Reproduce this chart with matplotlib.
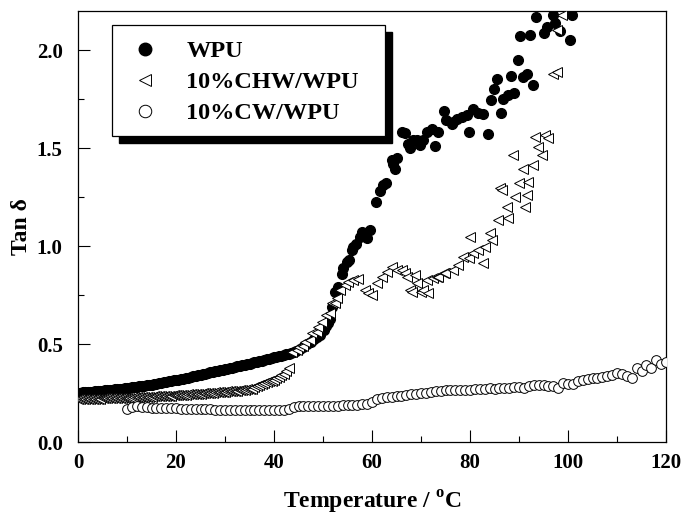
import matplotlib
matplotlib.use("Agg")
import matplotlib.pyplot as plt
from matplotlib.lines import Line2D
from matplotlib.patches import Rectangle
from matplotlib.ticker import MultipleLocator, FormatStrFormatter

# =============================================================================
# Data
# =============================================================================

# WPU: dense low-temperature band, then scattered points
wpu_temp = [
    0.0, 0.5, 1.0, 1.5, 2.0, 2.5, 3.0, 3.5, 4.0, 4.5, 5.0, 5.5, 6.0, 6.5, 7.0, 7.5,
    8.0, 8.5, 9.0, 9.5, 10.0, 10.5, 11.0, 11.5, 12.0, 12.5, 13.0, 13.5, 14.0, 14.5,
    15.0, 15.5, 16.0, 16.5, 17.0, 17.5, 18.0, 18.5, 19.0, 19.5, 20.0, 20.5, 21.0,
    21.5, 22.0, 22.5, 23.0, 23.5, 24.0, 24.5, 25.0, 25.5, 26.0, 26.5, 27.0, 27.5,
    28.0, 28.5, 29.0, 29.5, 30.0, 30.5, 31.0, 31.5, 32.0, 32.5, 33.0, 33.5, 34.0,
    34.5, 35.0, 35.5, 36.0, 36.5, 37.0, 37.5, 38.0, 38.5, 39.0, 39.5, 40.0, 40.5,
    41.0, 41.5, 42.0, 42.5, 43.0, 43.5, 44.0,
    44.5, 45.3, 46.0, 46.8, 47.5, 48.2, 48.8, 49.4, 50.2, 50.7, 51.1, 51.5, 51.8,
    52.4, 53.0, 53.8, 54.1, 54.8, 55.3, 55.9, 56.2, 56.7, 57.6, 57.9, 58.6, 58.9,
    59.6, 60.8, 61.6, 62.3, 62.9, 64.0, 64.3, 64.7, 65.0, 66.1, 66.7, 67.4, 67.8,
    68.4, 69.1, 69.8, 70.5, 71.2, 72.2, 72.9, 73.5, 74.6, 75.2, 76.3, 76.6, 77.3,
    78.3, 79.3, 79.7, 80.7, 81.7, 82.7, 83.7, 84.3, 84.9, 85.6, 86.3, 86.8, 87.8,
    88.3, 89.0, 89.7, 90.2, 90.9, 91.7, 92.2, 92.9, 93.5, 95.0, 95.8, 97.0, 97.3,
    98.4, 100.4, 100.9,
]
wpu_tan = [
    .251, .252, .253, .254, .255, .256, .257, .258, .259, .260, .262, .263, .264,
    .265, .267, .268, .270, .271, .272, .274, .275, .277, .279, .280, .282, .284,
    .286, .288, .290, .292, .293, .295, .297, .300, .302, .304, .307, .309, .311,
    .314, .316, .319, .321, .324, .327, .329, .332, .335, .337, .340, .343, .346,
    .349, .352, .355, .358, .360, .363, .366, .369, .372, .375, .378, .380, .383,
    .386, .389, .392, .394, .397, .400, .403, .406, .409, .412, .415, .419, .422,
    .425, .428, .432, .435, .438, .441, .445, .448, .451, .455, .458,
    .465, .475, .485, .500, .510, .525, .535, .546, .570, .590, .606, .630, .690,
    .767, .790, .860, .886, .920, .930, .980, .996, 1.01, 1.047, 1.073, 1.056, 1.04,
    1.082, 1.226, 1.28, 1.31, 1.32, 1.44, 1.42, 1.396, 1.452, 1.583, 1.575, 1.52,
    1.50, 1.54, 1.54, 1.515, 1.54, 1.58, 1.60, 1.51, 1.583, 1.69, 1.646, 1.622,
    1.634, 1.65, 1.657, 1.668, 1.58, 1.70, 1.677, 1.673, 1.571, 1.745, 1.80, 1.855,
    1.68, 1.753, 1.77, 1.87, 1.78, 1.95, 2.07, 1.864, 1.878, 2.08, 1.82, 2.17,
    2.09, 2.12, 2.18, 2.14, 2.10, 2.05, 2.18,
]

# 10%CHW/WPU
chw_temp = [
    0.0, 0.5, 1.0, 1.5, 2.0, 2.5, 3.0, 3.5, 4.0, 4.5, 5.0, 5.5, 6.0, 6.5, 7.0, 7.5,
    8.0, 8.5, 9.0, 9.5, 10.0, 10.5, 11.0, 11.5, 12.0, 12.5, 13.0, 13.5, 14.0, 14.5,
    15.0, 15.5, 16.0, 16.5, 17.0, 17.5, 18.0, 18.5, 19.0, 19.5, 20.0, 20.5, 21.0,
    21.5, 22.0, 22.5, 23.0, 23.5, 24.0, 24.5, 25.0, 25.5, 26.0, 26.5, 27.0, 27.5,
    28.0, 28.5, 29.0, 29.5, 30.0, 30.5, 31.0, 31.5, 32.0, 32.5, 33.0, 33.5, 34.0,
    34.5, 35.0, 35.5, 36.0, 36.5, 37.0, 37.5, 38.0, 38.5, 39.0, 39.5, 40.0, 40.5,
    41.0, 41.5, 42.0, 42.5, 43.0,
    43.6, 44.6, 45.0, 46.0, 46.3, 47.3, 47.7, 48.7, 49.0, 49.7, 50.7, 51.4, 51.8,
    52.4, 52.8, 53.5, 54.5, 55.2, 56.2, 57.2, 58.6, 59.2, 59.9, 61.0, 62.0, 63.0,
    64.0, 65.0, 66.1, 66.7, 67.1, 67.8, 68.1, 68.8, 69.1, 70.1, 70.5, 71.2, 71.5,
    72.5, 73.2, 73.5, 74.6, 74.9, 76.6, 77.6, 78.6, 79.9, 79.7, 80.7, 81.7, 82.7,
    83.1, 84.1, 84.4, 85.8, 86.1, 86.5, 87.5, 87.8, 88.8, 89.2, 89.9, 90.9, 91.2,
    91.6, 91.9, 92.9, 93.3, 93.9, 94.6, 95.3, 96.0, 97.0, 97.7, 97.7, 98.7,
]
chw_tan = [
    .219, .219, .220, .220, .221, .221, .221, .222, .222, .222, .223, .223, .223,
    .224, .224, .224, .225, .225, .225, .226, .226, .227, .227, .228, .229, .229,
    .230, .230, .231, .232, .232, .233, .233, .234, .234, .235, .236, .236, .237,
    .238, .238, .239, .240, .241, .242, .243, .244, .245, .246, .247, .247, .248,
    .249, .250, .251, .252, .253, .254, .255, .256, .257, .258, .259, .260, .261,
    .262, .263, .265, .266, .268, .270, .272, .282, .287, .292, .297, .301, .305,
    .309, .313, .318, .325, .332, .340, .348, .362, .380,
    .461, .470, .486, .490, .512, .520, .554, .563, .588, .610, .648, .660, .708,
    .710, .733, .776, .800, .818, .827, .830, .776, .759, .750, .810, .843, .869,
    .894, .878, .878, .861, .843, .776, .767, .852, .810, .767, .776, .827, .759,
    .835, .843, .843, .861, .861, .878, .903, .945, 1.047, .937, .963, .980, .912,
    .996, 1.065, 1.03, 1.133, 1.294, 1.286, 1.20, 1.141, 1.464, 1.25, 1.32, 1.396,
    1.20, 1.26, 1.328, 1.413, 1.558, 1.507, 1.464, 1.566, 1.55, 1.88, 1.89, 2.105,
    2.18,
]

# 10%CW/WPU
cw_temp = [
    10, 11, 12, 13, 14, 15, 16, 17, 18, 19, 20, 21, 22, 23, 24, 25, 26, 27, 28, 29,
    30, 31, 32, 33, 34, 35, 36, 37, 38, 39, 40, 41, 42, 43, 44, 45, 46, 47, 48, 49,
    50, 51, 52, 53, 54, 55, 56, 57, 58, 59, 60, 61, 62, 63, 64, 65, 66, 67, 68, 69,
    70, 71, 72, 73, 74, 75, 76, 77, 78, 79, 80, 81, 82, 83, 84, 85, 86, 87, 88, 89,
    90, 91, 92, 93, 94, 95, 96, 97, 98, 99, 100, 101, 102, 103, 104, 105, 106, 107,
    108, 109, 110, 111, 112, 113, 114, 115, 116, 117, 118, 119, 120,
]
cw_tan = [
    .167, .178, .183, .180, .178, .176, .175, .174, .173, .172, .171, .170, .169,
    .168, .167, .167, .166, .166, .165, .165, .165, .164, .164, .164, .163, .163,
    .163, .163, .163, .163, .164, .164, .165, .168, .180, .182, .183, .183, .183,
    .184, .184, .184, .185, .186, .187, .188, .189, .190, .192, .196, .203, .222,
    .226, .229, .231, .234, .237, .240, .243, .246, .249, .252, .255, .258, .262,
    .264, .264, .265, .266, .266, .267, .268, .270, .273, .275, .272, .274, .275,
    .278, .280, .282, .274, .285, .291, .292, .290, .288, .286, .276, .300, .294,
    .298, .312, .318, .322, .325, .328, .333, .336, .340, .350, .345, .335, .325,
    .376, .360, .393, .376, .418, .400, .410,
]

series_labels = ["WPU", "10%CHW/WPU", "10%CW/WPU"]

# =============================================================================
# Plot
# =============================================================================

plt.rcParams["font.family"] = ["Liberation Serif", "DejaVu Serif"]
plt.rcParams["font.weight"] = "bold"
plt.rcParams["mathtext.fontset"] = "custom"
plt.rcParams["mathtext.rm"] = "Liberation Serif:bold"
plt.rcParams["mathtext.bf"] = "Liberation Serif:bold"

fig = plt.figure(figsize=(6.81, 5.18), dpi=100)
ax = fig.add_axes([78 / 681, 76 / 518, 588 / 681, 431 / 518])

ms = 7.0
ax.plot(wpu_temp, wpu_tan, linestyle="none", marker="o", markersize=ms,
        markerfacecolor="black", markeredgecolor="black", zorder=2)
ax.plot(chw_temp, chw_tan, linestyle="none", marker="<", markersize=ms + 0.5,
        markerfacecolor="white", markeredgecolor="black", markeredgewidth=0.7,
        zorder=3)
ax.plot(cw_temp, cw_tan, linestyle="none", marker="o", markersize=ms,
        markerfacecolor="white", markeredgecolor="black", markeredgewidth=0.7,
        zorder=3)

ax.set_xlim(0, 120)
ax.set_ylim(0, 2.2)
ax.xaxis.set_major_locator(MultipleLocator(20))
ax.xaxis.set_minor_locator(MultipleLocator(10))
ax.yaxis.set_major_locator(MultipleLocator(0.5))
ax.yaxis.set_minor_locator(MultipleLocator(0.25))
ax.yaxis.set_major_formatter(FormatStrFormatter("%.1f"))

ax.tick_params(which="both", direction="in", top=False, right=False, width=0.8)
ax.tick_params(which="major", length=8.5, labelsize=15)
ax.tick_params(which="minor", length=4.5)
ax.tick_params(axis="x", which="major", pad=8)
ax.tick_params(axis="y", which="major", pad=11)
for s in ax.spines.values():
    s.set_linewidth(0.9)

ax.set_xlabel("Temperature / $^{\\mathrm{o}}$C", fontsize=17, fontweight="bold")
ax.set_ylabel("Tan δ", fontsize=17, fontweight="bold")
ax.xaxis.set_label_coords(0.5, -0.108)
ax.yaxis.set_label_coords(-0.078, 0.5)

# legend box with solid black drop shadow
box = (0.058, 0.710, 0.464, 0.2575)
ax.add_patch(Rectangle((box[0] + 0.0119, box[1] - 0.0162), box[2], box[3],
                       transform=ax.transAxes, facecolor="black",
                       edgecolor="black", zorder=5))
ax.add_patch(Rectangle((box[0], box[1]), box[2], box[3],
                       transform=ax.transAxes, facecolor="white",
                       edgecolor="black", linewidth=0.9, zorder=6))

handles = [
    Line2D([], [], linestyle="none", marker="o", markersize=9,
           markerfacecolor="black", markeredgecolor="black"),
    Line2D([], [], linestyle="none", marker="<", markersize=9,
           markerfacecolor="white", markeredgecolor="black", markeredgewidth=0.7),
    Line2D([], [], linestyle="none", marker="o", markersize=9,
           markerfacecolor="white", markeredgecolor="black", markeredgewidth=0.7),
]
leg = ax.legend(handles, series_labels, loc="upper left",
                bbox_to_anchor=((133 - 78) / 588, (442 - 40) / 431),
                frameon=False, fontsize=17.5, borderpad=0, borderaxespad=0,
                handlelength=1.0, handletextpad=1.2, labelspacing=0.37)
leg.set_zorder(7)

fig.savefig("out.png", dpi=100)
